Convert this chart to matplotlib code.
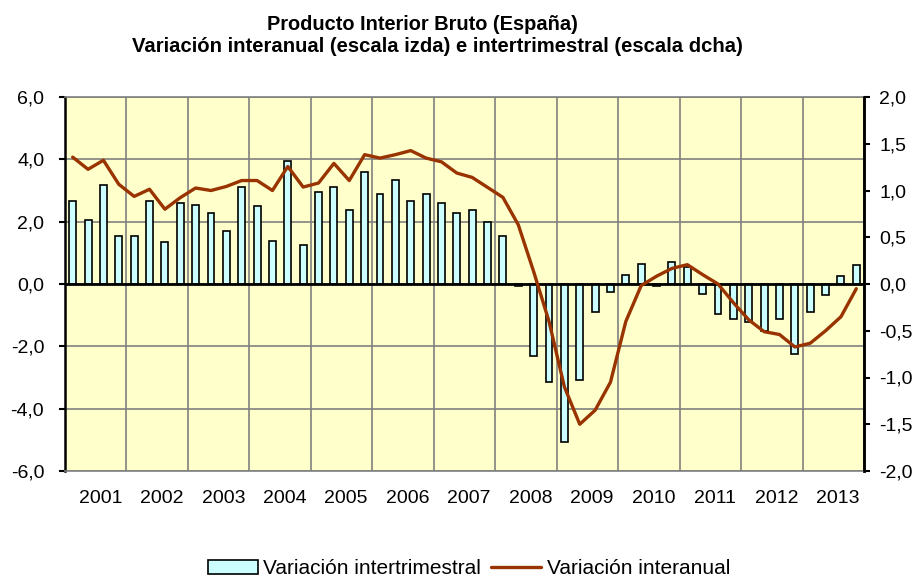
"""PIB Espana: variacion interanual (izda) e intertrimestral (dcha)"""

import matplotlib
matplotlib.use("Agg")
import matplotlib.pyplot as plt
from matplotlib.ticker import FuncFormatter, FixedLocator
import numpy as np

plt.rcParams["font.family"] = ["Liberation Sans", "DejaVu Sans"]

YEARS = list(range(2001, 2014))

# variacion intertrimestral, % (escala dcha), 2001T1 .. 2013T4
QOQ = [
    0.89, 0.68, 1.06, 0.51,
    0.51, 0.89, 0.45, 0.87,
    0.85, 0.76, 0.57, 1.04,
    0.83, 0.46, 1.32, 0.42,
    0.98, 1.04, 0.79, 1.20,
    0.96, 1.11, 0.89, 0.96,
    0.87, 0.76, 0.79, 0.66,
    0.51, -0.02, -0.77, -1.05,
    -1.69, -1.03, -0.30, -0.09,
    0.10, 0.21, -0.02, 0.24,
    0.18, -0.11, -0.32, -0.37,
    -0.41, -0.50, -0.37, -0.75,
    -0.30, -0.12, 0.09, 0.20,
]

# variacion interanual, % (escala izda)
YOY = [
    4.07, 3.68, 3.97, 3.20,
    2.81, 3.04, 2.40, 2.77,
    3.08, 3.00, 3.13, 3.32,
    3.32, 3.00, 3.77, 3.11,
    3.24, 3.87, 3.32, 4.15,
    4.04, 4.15, 4.28, 4.04,
    3.92, 3.56, 3.42, 3.10,
    2.78, 1.90, 0.40, -1.20,
    -3.30, -4.50, -4.05, -3.15,
    -1.20, -0.05, 0.25, 0.50,
    0.62, 0.30, 0.00, -0.60,
    -1.15, -1.53, -1.62, -2.02,
    -1.90, -1.50, -1.05, -0.15,
]

BAR_COLOR = "#CCFFFF"
LINE_COLOR = "#993300"
BG_COLOR = "#FFFFCC"
GRID_COLOR = "#808080"
FS = 14


def comma_fmt(v, pos):
    return f"{v:.1f}".replace(".", ",")


fig = plt.figure(figsize=(9.19, 5.81), dpi=100)
ax = fig.add_axes([65 / 919, 1 - 471 / 581, (864 - 65) / 919, (471 - 97) / 581])
ax2 = ax.twinx()
ax3 = ax.twinx()

n_q = len(QOQ)
xpos = np.arange(n_q) + 0.5

# background axes: left scale, grid
ax.set_facecolor(BG_COLOR)
ax.set_xlim(0, n_q)
ax.set_ylim(-6, 6)
ax.set_yticks(np.arange(-6, 6.1, 2))
ax.yaxis.set_major_formatter(FuncFormatter(comma_fmt))
ax.xaxis.set_major_locator(FixedLocator(np.arange(0, n_q + 1, 4)))
ax.xaxis.set_minor_locator(FixedLocator(np.arange(2.3, n_q, 4)))
ax.set_xticklabels([], minor=False)
ax.set_xticklabels([str(y) for y in YEARS], minor=True)
ax.tick_params(axis="x", which="both", length=0, labelsize=FS, pad=14)
ax.tick_params(axis="y", length=4, width=1.5, direction="out", labelsize=FS, pad=11)
ax.grid(True, color=GRID_COLOR, linewidth=1.2)
ax.set_axisbelow(True)
for s in ("top", "bottom"):
    ax.spines[s].set_color(GRID_COLOR)
    ax.spines[s].set_linewidth(1.2)
ax.spines["left"].set_linewidth(1.8)
ax.spines["right"].set_linewidth(1.8)

# bars: right scale
ax2.bar(xpos, QOQ, width=0.45, color=BAR_COLOR, edgecolor="black",
        linewidth=1.2, zorder=2, label="Variación intertrimestral")
ax2.axhline(0, color="black", linewidth=2, zorder=3)
ax2.set_ylim(-2, 2)
ax2.set_yticks(np.arange(-2, 2.01, 0.5))
ax2.yaxis.set_major_formatter(FuncFormatter(comma_fmt))
ax2.tick_params(axis="y", length=4, width=1.5, direction="out", labelsize=FS, pad=7)
for s in ("top", "bottom", "left"):
    ax2.spines[s].set_visible(False)
ax2.spines["right"].set_linewidth(1.8)

# line: left scale
ax3.plot(xpos, YOY, color=LINE_COLOR, linewidth=2.4, solid_joinstyle="round",
         solid_capstyle="round", label="Variación interanual")
ax3.set_ylim(-6, 6)
ax3.axis("off")

fig.text(422 / 919, 1 - 25 / 581, "Producto Interior Bruto (España)",
         ha="center", va="center", fontsize=14.4, fontweight="bold")
fig.text(437 / 919, 1 - 47 / 581,
         "Variación interanual (escala izda) e intertrimestral (escala dcha)",
         ha="center", va="center", fontsize=14.6, fontweight="bold")

h2, l2 = ax2.get_legend_handles_labels()
h3, l3 = ax3.get_legend_handles_labels()
fig.legend(h2 + h3, l2 + l3, loc="center", bbox_to_anchor=(469 / 919, 1 - 569 / 581),
           ncol=2, frameon=False, fontsize=15, handlelength=2.4, handleheight=0.65,
           handletextpad=0.25, columnspacing=0.5, borderaxespad=0)

fig.savefig("out.png", dpi=100, facecolor="white")
